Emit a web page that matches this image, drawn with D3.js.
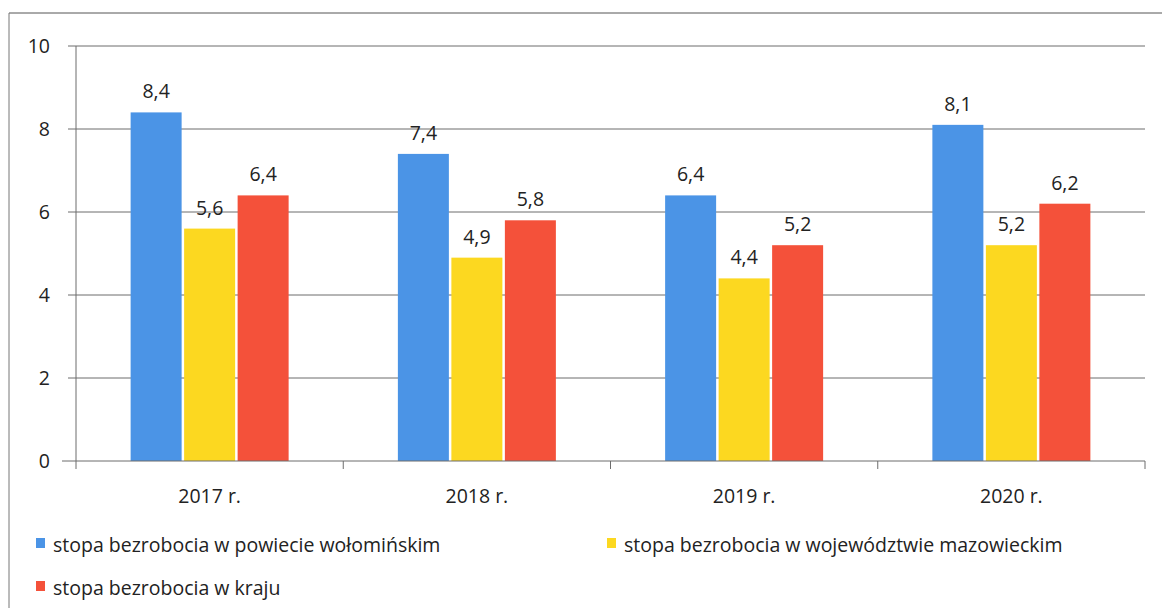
<!DOCTYPE html>
<html>
<head>
<meta charset="utf-8">
<script src="https://cdn.jsdelivr.net/npm/d3@7"></script>
<style>
  body { margin: 0; background: #ffffff; }
  svg text { font-family: "Open Sans", sans-serif; fill: #222222; }
</style>
</head>
<body>
<svg id="chart" width="1162" height="608"></svg>
<script>
// data
let years      = ["2017 r.", "2018 r.", "2019 r.", "2020 r."];
let seriesName = ["stopa bezrobocia w powiecie wołomińskim",
                  "stopa bezrobocia w województwie mazowieckim",
                  "stopa bezrobocia w kraju"];
let powiat     = [8.4, 7.4, 6.4, 8.1];
let wojew      = [5.6, 4.9, 4.4, 5.2];
let kraj       = [6.4, 5.8, 5.2, 6.2];
let yTicks     = [0, 2, 4, 6, 8, 10];
let colors     = ["#4b94e6", "#fcd820", "#f4513a"];

let allSeries = [powiat, wojew, kraj];
let fs = "19.5px";

let svg = d3.select("#chart");

// outer frame (top + left edge visible in scan)
svg.append("line").attr("x1", 9).attr("x2", 1162).attr("y1", 13).attr("y2", 13)
    .attr("stroke", "#555").attr("stroke-width", 1);
svg.append("line").attr("x1", 9).attr("x2", 9).attr("y1", 13).attr("y2", 608)
    .attr("stroke", "#777").attr("stroke-width", 1);

let x0 = d3.scaleBand().domain(years).range([76, 1145]).paddingInner(0).paddingOuter(0);
let y  = d3.scaleLinear().domain([0, 10]).range([461, 46]);

let barW = 51, barGap = 2.5;

// gridlines
svg.append("g")
    .selectAll("line")
    .data(yTicks.filter(d => d > 0))
    .enter()
        .append("line")
            .attr("x1", 68).attr("x2", 1145)
            .attr("y1", d => y(d)).attr("y2", d => y(d))
            .attr("stroke", "#6d6d6d").attr("stroke-width", 1)
;

// y axis labels
svg.append("g")
    .selectAll("text")
    .data(yTicks)
    .enter()
        .append("text")
            .attr("x", 50).attr("y", d => y(d) + 7)
            .attr("text-anchor", "end")
            .style("font-size", fs)
            .text(d => d)
;

// bars
let groups = svg.append("g")
    .selectAll("g")
    .data(years)
    .enter()
        .append("g")
            .attr("transform", d => "translate(" + (x0(d) + x0.bandwidth() / 2) + ",0)")
;

allSeries.forEach((vals, si) => {
    let off = (si - 1) * (barW + barGap) - barW / 2;
    groups.append("rect")
        .attr("x", off)
        .attr("width", barW)
        .attr("y", (d, i) => y(vals[i]))
        .attr("height", (d, i) => y(0) - y(vals[i]))
        .attr("fill", colors[si]);
    groups.append("text")
        .attr("x", off + barW / 2)
        .attr("y", (d, i) => y(vals[i]) - 14)
        .attr("text-anchor", "middle")
        .style("font-size", fs)
        .text((d, i) => String(vals[i]).replace(".", ","));
});

// y axis line + x axis line
svg.append("line").attr("x1", 76).attr("x2", 76).attr("y1", 46).attr("y2", 469)
    .attr("stroke", "#6d6d6d");
svg.append("line").attr("x1", 62).attr("x2", 1145).attr("y1", y(0)).attr("y2", y(0))
    .attr("stroke", "#6d6d6d");

// category ticks
let bounds = x0.domain().map(d => x0(d)).concat([x0.range()[1]]);
svg.append("g")
    .selectAll("line")
    .data(bounds.slice(1))
    .enter()
        .append("line")
            .attr("x1", d => d).attr("x2", d => d)
            .attr("y1", y(0)).attr("y2", y(0) + 8)
            .attr("stroke", "#6d6d6d")
;

// x labels
svg.append("g")
    .selectAll("text")
    .data(years)
    .enter()
        .append("text")
            .attr("x", d => x0(d) + x0.bandwidth() / 2)
            .attr("y", 503)
            .attr("text-anchor", "middle")
            .style("font-size", fs)
            .text(d => d)
;

// legend
let legendPos = [[36, 547], [607, 547], [36, 590]];
let leg = svg.append("g")
    .selectAll("g")
    .data(seriesName)
    .enter()
        .append("g")
            .attr("transform", (d, i) => "translate(" + legendPos[i][0] + "," + legendPos[i][1] + ")")
;
leg.append("rect")
    .attr("x", 0).attr("y", -9).attr("width", 9).attr("height", 10)
    .attr("fill", (d, i) => colors[i]);
leg.append("text")
    .attr("x", 17).attr("y", 5)
    .style("font-size", fs)
    .text(d => d);
</script>
</body>
</html>
